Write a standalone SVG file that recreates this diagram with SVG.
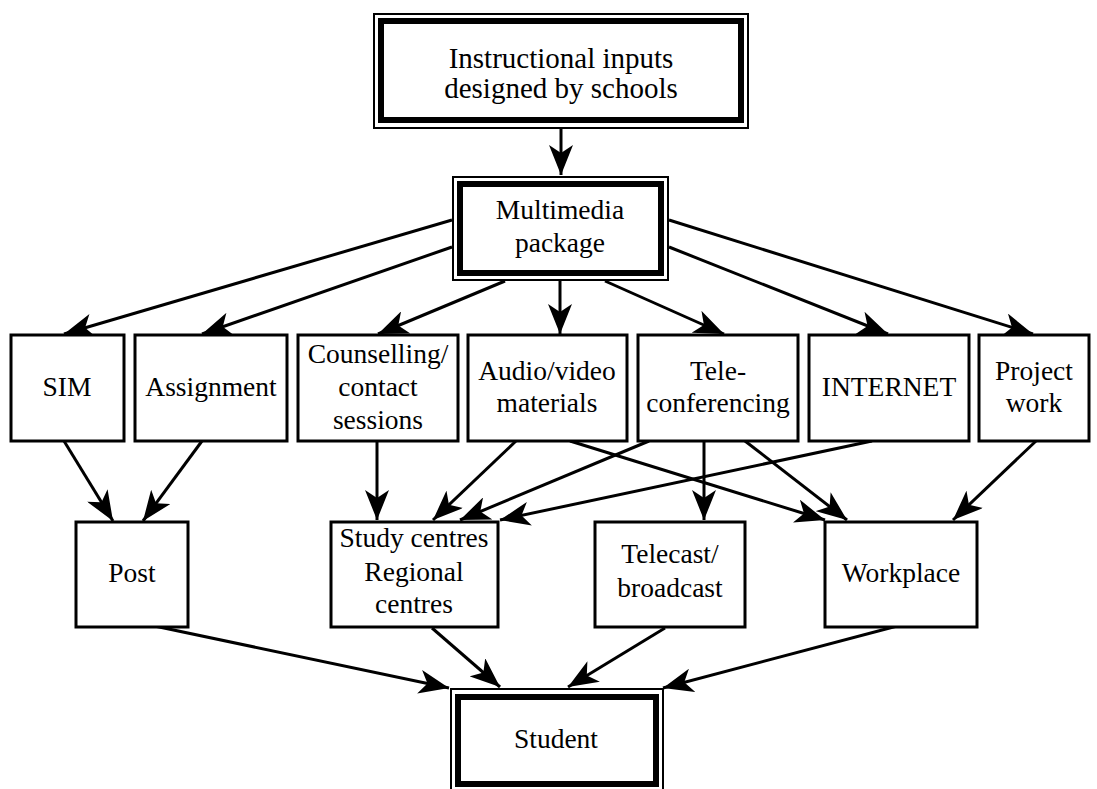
<svg xmlns="http://www.w3.org/2000/svg" width="1097" height="789" viewBox="0 0 1097 789">
<style>
.box{fill:#fff;stroke:#000;stroke-width:3}
.thin{fill:#fff;stroke:#000;stroke-width:2}
.thick{fill:none;stroke:#000;stroke-width:6}
.lbl{font-family:"Liberation Serif",serif;font-size:27.5px;fill:#000;text-anchor:middle}
.big{font-size:29px}
.edge{stroke:#000;stroke-width:3;fill:none;marker-end:url(#ah)}
</style>
<defs>
<marker id="ah" viewBox="0 0 30 24" refX="30" refY="12" markerWidth="30" markerHeight="24" markerUnits="userSpaceOnUse" orient="auto">
<path d="M30,12 L0,0 L8,12 L0,24 Z" fill="#000"/>
</marker>
</defs>
<rect width="1097" height="789" fill="#fff"/>
<g id="edges">
<line class="edge" x1="561" y1="129" x2="561" y2="175"/>
<line class="edge" x1="452" y1="220" x2="64" y2="334"/>
<line class="edge" x1="452" y1="247" x2="202" y2="334"/>
<line class="edge" x1="505" y1="281" x2="378" y2="334"/>
<line class="edge" x1="560" y1="281" x2="560" y2="334"/>
<line class="edge" x1="605" y1="281" x2="724" y2="334"/>
<line class="edge" x1="669" y1="247" x2="888" y2="334"/>
<line class="edge" x1="669" y1="220" x2="1033" y2="334"/>
<line class="edge" x1="64" y1="441" x2="113" y2="521"/>
<line class="edge" x1="202" y1="441" x2="143" y2="521"/>
<line class="edge" x1="377" y1="441" x2="377" y2="520"/>
<line class="edge" x1="516" y1="441" x2="433" y2="520"/>
<line class="edge" x1="649" y1="441" x2="460" y2="520"/>
<line class="edge" x1="872" y1="441" x2="500" y2="520"/>
<line class="edge" x1="570" y1="441" x2="825" y2="520"/>
<line class="edge" x1="704" y1="441" x2="704" y2="520"/>
<line class="edge" x1="745" y1="441" x2="847" y2="520"/>
<line class="edge" x1="1036" y1="441" x2="953" y2="520"/>
<line class="edge" x1="145" y1="624" x2="449" y2="688"/>
<line class="edge" x1="432" y1="628" x2="500" y2="687"/>
<line class="edge" x1="665" y1="628" x2="568" y2="687"/>
<line class="edge" x1="901" y1="625" x2="663" y2="688"/>
</g>
<g id="n-inputs">
<rect class="thin" x="374" y="14" width="374" height="114"/>
<rect class="thick" x="381" y="21" width="360" height="99"/>
<text class="lbl big" x="561" y="68">Instructional inputs</text>
<text class="lbl big" x="561" y="98">designed by schools</text>
</g>
<g id="n-multimedia">
<rect class="thin" x="453" y="177" width="215" height="103"/>
<rect class="thick" x="460" y="184" width="201" height="89"/>
<text class="lbl" x="560" y="219">Multimedia</text>
<text class="lbl" x="560" y="252">package</text>
</g>
<g id="n-sim">
<rect class="box" x="11" y="335" width="113" height="106"/>
<text class="lbl" x="67" y="396">SIM</text>
</g>
<g id="n-assignment">
<rect class="box" x="135" y="335" width="152" height="106"/>
<text class="lbl" x="211" y="396">Assignment</text>
</g>
<g id="n-counselling">
<rect class="box" x="298" y="335" width="160" height="106"/>
<text class="lbl" x="378" y="363">Counselling/</text>
<text class="lbl" x="378" y="396">contact</text>
<text class="lbl" x="378" y="429">sessions</text>
</g>
<g id="n-audio">
<rect class="box" x="468" y="335" width="159" height="106"/>
<text class="lbl" x="547" y="380">Audio/video</text>
<text class="lbl" x="547" y="412">materials</text>
</g>
<g id="n-tele">
<rect class="box" x="638" y="335" width="160" height="106"/>
<text class="lbl" x="718" y="380">Tele-</text>
<text class="lbl" x="718" y="412">conferencing</text>
</g>
<g id="n-internet">
<rect class="box" x="809" y="335" width="160" height="106"/>
<text class="lbl" x="889" y="396">INTERNET</text>
</g>
<g id="n-project">
<rect class="box" x="979" y="335" width="110" height="106"/>
<text class="lbl" x="1034" y="380">Project</text>
<text class="lbl" x="1034" y="412">work</text>
</g>
<g id="n-post">
<rect class="box" x="76" y="522" width="112" height="105"/>
<text class="lbl" x="132" y="582">Post</text>
</g>
<g id="n-study">
<rect class="box" x="331" y="522" width="167" height="105"/>
<text class="lbl" x="414" y="547">Study centres</text>
<text class="lbl" x="414" y="581">Regional</text>
<text class="lbl" x="414" y="613">centres</text>
</g>
<g id="n-telecast">
<rect class="box" x="595" y="522" width="150" height="105"/>
<text class="lbl" x="670" y="563">Telecast/</text>
<text class="lbl" x="670" y="597">broadcast</text>
</g>
<g id="n-workplace">
<rect class="box" x="825" y="522" width="152" height="105"/>
<text class="lbl" x="901" y="582">Workplace</text>
</g>
<g id="n-student">
<rect class="thin" x="451" y="689" width="212" height="102"/>
<rect class="thick" x="458" y="697" width="198" height="87"/>
<text class="lbl" x="556" y="748">Student</text>
</g>
</svg>
